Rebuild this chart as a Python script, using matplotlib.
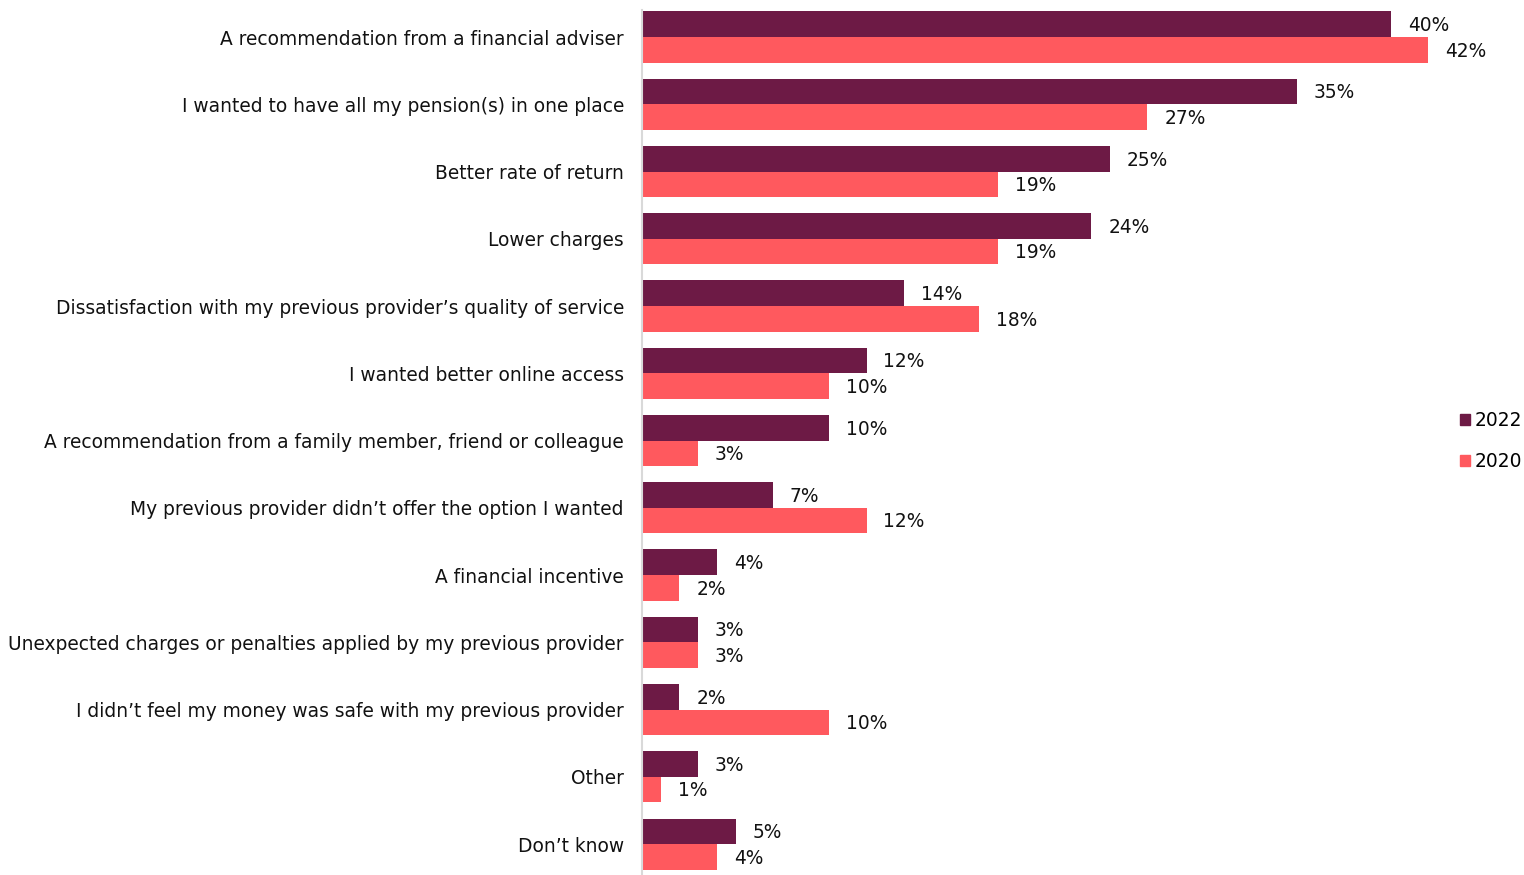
import numpy as np
import matplotlib.pyplot as plt
from matplotlib.patches import Patch

# reasons for switching pension provider
categories = [
    "A recommendation from a financial adviser",
    "I wanted to have all my pension(s) in one place",
    "Better rate of return",
    "Lower charges",
    "Dissatisfaction with my previous provider\u2019s quality of service",
    "I wanted better online access",
    "A recommendation from a family member, friend or colleague",
    "My previous provider didn\u2019t offer the option I wanted",
    "A financial incentive",
    "Unexpected charges or penalties applied by my previous provider",
    "I didn\u2019t feel my money was safe with my previous provider",
    "Other",
    "Don\u2019t know",
]
vals_2022 = [40, 35, 25, 24, 14, 12, 10, 7, 4, 3, 2, 3, 5]
vals_2020 = [42, 27, 19, 19, 18, 10, 3, 12, 2, 3, 10, 1, 4]

c22 = "#6D1A45"
c20 = "#FF595E"
fs = 13.4

plt.rcParams['font.family'] = ['DejaVu Sans']

fig = plt.figure(figsize=(15.24, 8.75), dpi=100)
ax = fig.add_axes([642 / 1524, 0, (1440 - 642) / 1524, 1 - 3.4 / 875])

y = np.arange(len(categories))
h = 0.38
ax.barh(y - h / 2, vals_2022, height=h, color=c22)
ax.barh(y + h / 2, vals_2020, height=h, color=c20)

for yi, v in zip(y, vals_2022):
    ax.text(v + 0.9, yi - h / 2 + 0.02, f"{v}%", va='center', ha='left', fontsize=fs, color='#111111')
for yi, v in zip(y, vals_2020):
    ax.text(v + 0.9, yi + h / 2 + 0.02, f"{v}%", va='center', ha='left', fontsize=fs, color='#111111')

ax.set_xlim(0, (1440 - 642) / 18.72)
ax.set_ylim(12.46, -0.5)
ax.set_yticks(y)
ax.set_yticklabels(categories, fontsize=fs, color='#111111')
ax.tick_params(axis='y', length=0, pad=13)
ax.set_xticks([])
for s in ['top', 'right', 'bottom']:
    ax.spines[s].set_visible(False)
ax.spines['left'].set_color('#D9D9D9')
ax.spines['left'].set_linewidth(1.5)
ax.spines['left'].set_bounds(12.46, -0.4)

handles = [Patch(color=c22, label='2022'), Patch(color=c20, label='2020')]
fig.legend(handles=handles, loc='center left', bbox_to_anchor=(1460 / 1524, 1 - 441 / 875),
           frameon=False, fontsize=fs, handlelength=0.55, handleheight=0.55,
           handletextpad=0.25, labelspacing=1.15, borderpad=0, borderaxespad=0)

fig.savefig("out.png", dpi=100)
